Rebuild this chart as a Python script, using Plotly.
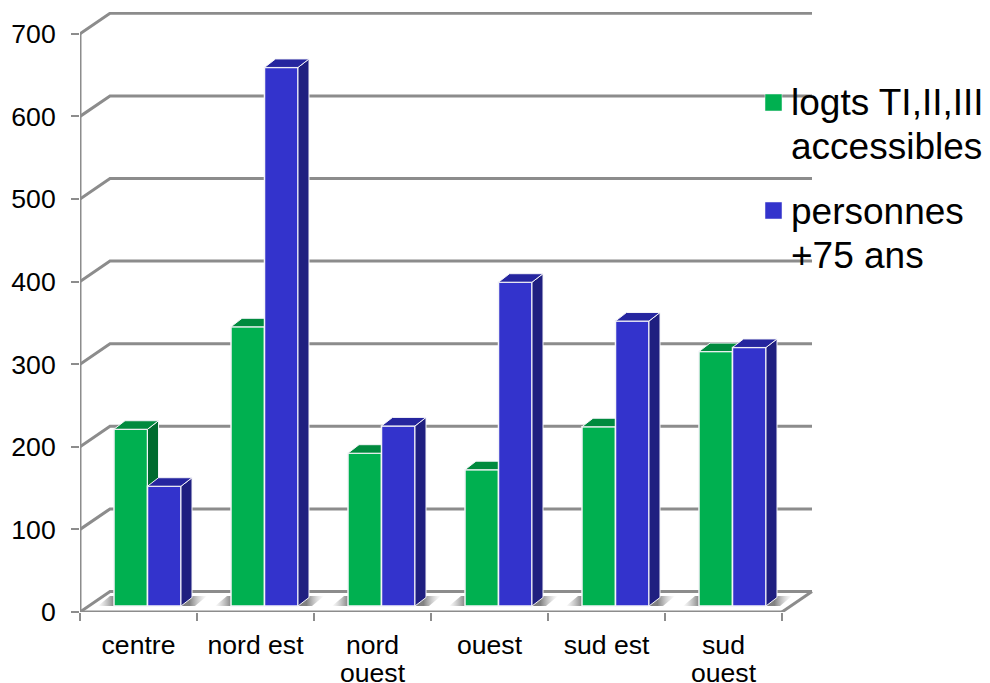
import plotly.graph_objects as go

# ---- data ----
cat_line1 = ["centre", "nord est", "nord", "ouest", "sud est", "sud"]
cat_line2 = ["", "", "ouest", "", "", "ouest"]
logts = [214, 338, 185, 165, 217, 308]
personnes = [145, 652, 218, 392, 345, 313]
y_ticks = [0, 100, 200, 300, 400, 500, 600, 700]
legend_lines = [["logts TI,II,III", "accessibles"], ["personnes", "+75 ans"]]

# ---- geometry / style ----
PAGE = 8              # default page margin of the written html
W, H = 990 - PAGE, 683 - PAGE
L, R, T, B = 80 - PAGE, 813 - PAGE, 12 - PAGE, 612 - PAGE
PX_X = 117.0          # px per category
PX_Y = 0.826          # px per value unit
XMAX = (R - L) / PX_X
YMAX = (B - T) / PX_Y
N = len(cat_line1)
WALL_DX = 30 / PX_X
WALL_DY = 20.5 / PX_Y
BASE = 6 / PX_Y
BAR_W = 33.5 / PX_X
BAR_OFF = 34 / PX_X
SIDE_DX = 11 / PX_X
SIDE_DY = 8.5 / PX_Y
GRID = "#8c8c8c"
FONT = "Liberation Sans"
TICK_SIZE = 26.6
LEGEND_SIZE = 37
GREEN = ("#00B050", "#006B30", "#008A3E")
BLUE = ("#3333CC", "#1F1F80", "#25259F")

fig = go.Figure()

# back wall grid lines and floor edge
gx, gy = [], []
for v in y_ticks:
    gx += [0, WALL_DX, N + WALL_DX, None]
    gy += [v, v + WALL_DY, v + WALL_DY, None]
gx += [N, N + WALL_DX, None, 0, N]
gy += [0, WALL_DY, None, 0, 0]
fig.add_trace(go.Scatter(x=gx, y=gy, mode="lines", line=dict(color=GRID, width=3),
                         hoverinfo="skip", showlegend=False))

# floor shadows
for i in range(N):
    x0 = i + BAR_OFF
    x1 = x0 + 2 * BAR_W
    sx = [x0 - 16 / PX_X, x1 + 14 / PX_X, x1 + 26 / PX_X, x0 - 4 / PX_X, x0 - 16 / PX_X]
    sy = [BASE, BASE, BASE + 10 / PX_Y, BASE + 10 / PX_Y, BASE]
    fig.add_trace(go.Scatter(
        x=sx, y=sy, mode="none", fill="toself",
        fillgradient=dict(type="horizontal", colorscale=[
            [0, "rgba(170,170,170,0)"], [0.15, "rgba(130,130,130,1)"],
            [0.84, "rgba(130,130,130,1)"], [1, "rgba(190,190,190,0)"]]),
        hoverinfo="skip", showlegend=False))


def draw(values, offset, colors, name, xa, ya):
    xs = [i + BAR_OFF + offset for i in range(N)]
    side_x, side_y, top_x, top_y = [], [], [], []
    for x, v in zip(xs, values):
        a, b = x, x + BAR_W
        t = BASE + v
        side_x += [b, b + SIDE_DX, b + SIDE_DX, b, b, None]
        side_y += [BASE, BASE + SIDE_DY, t + SIDE_DY, t, BASE, None]
        top_x += [a, a + SIDE_DX, b + SIDE_DX, b, a, None]
        top_y += [t, t + SIDE_DY, t + SIDE_DY, t, t, None]
    fig.add_trace(go.Bar(x=[x + BAR_W / 2 for x in xs], y=values, base=BASE, width=BAR_W, name=name,
                         marker=dict(color=colors[0], line=dict(color="#f4f4f8", width=1.5)),
                         xaxis=xa, yaxis=ya, showlegend=False, hoverinfo="skip"))
    for px, py, col in ((side_x, side_y, colors[1]), (top_x, top_y, colors[2])):
        fig.add_trace(go.Scatter(x=px, y=py, mode="lines", fill="toself", fillcolor=col,
                                 line=dict(color="#f4f4f8", width=1), xaxis=xa, yaxis=ya,
                                 hoverinfo="skip", showlegend=False))


draw(logts, 0, GREEN, "logts TI,II,III accessibles", "x2", "y2")
draw(personnes, BAR_W, BLUE, "personnes +75 ans", "x3", "y3")

# second lines of the category labels
annotations = []
for i, t in enumerate(cat_line2):
    if t:
        annotations.append(dict(x=i + 0.5, xref="x", y=(B - (673 - PAGE)) / (B - T), yref="paper",
                                text=t, showarrow=False, font=dict(family=FONT, size=TICK_SIZE, color="#000"),
                                xanchor="center", yanchor="middle"))

# legend block
legend_y = [[102 - PAGE, 146 - PAGE], [211 - PAGE, 255 - PAGE]]
swatch_y = [(94 - PAGE, 111 - PAGE), (202 - PAGE, 219 - PAGE)]
shapes = []
for lines, ys, sw, col in zip(legend_lines, legend_y, swatch_y, (GREEN[0], BLUE[0])):
    shapes.append(dict(type="rect", xref="paper", yref="paper",
                       x0=(765 - PAGE - L) / (R - L), x1=(782 - PAGE - L) / (R - L),
                       y0=(B - sw[1]) / (B - T), y1=(B - sw[0]) / (B - T),
                       fillcolor=col, line=dict(color="#f4f4f8", width=0.5)))
    for t, y in zip(lines, ys):
        annotations.append(dict(x=(789 - PAGE - L) / (R - L), xref="paper", y=(B - y) / (B - T), yref="paper",
                                text=t, showarrow=False, font=dict(family=FONT, size=LEGEND_SIZE, color="#000"),
                                xanchor="left", yanchor="middle"))

hidden = dict(visible=False, fixedrange=True)
fig.update_layout(
    width=W, height=H, margin=dict(l=L, r=W - R, t=T, b=H - B, autoexpand=False),
    paper_bgcolor="white", plot_bgcolor="white", showlegend=False, barmode="overlay",
    hovermode=False, annotations=annotations, shapes=shapes,
    font=dict(family=FONT, size=TICK_SIZE, color="#000"),
    xaxis=dict(range=[0, XMAX], tickvals=[i + 0.5 for i in range(N)], ticktext=cat_line1,
               ticks="", showgrid=False, zeroline=False, showline=False,
               ticklabelstandoff=14, tickangle=0, fixedrange=True,
               minor=dict(tickvals=list(range(N + 1)), ticks="outside", ticklen=8, tickwidth=2,
                          tickcolor=GRID, showgrid=False)),
    yaxis=dict(range=[0, YMAX], tickvals=y_ticks, ticks="outside", ticklen=8, tickwidth=2,
               tickcolor=GRID, showgrid=False, zeroline=False, showline=False,
               ticklabelstandoff=10, fixedrange=True),
    xaxis2=dict(overlaying="x", range=[0, XMAX], **hidden),
    yaxis2=dict(overlaying="y", range=[0, YMAX], **hidden),
    xaxis3=dict(overlaying="x", range=[0, XMAX], **hidden),
    yaxis3=dict(overlaying="y", range=[0, YMAX], **hidden),
)
# y axis line only up to the 700 tick
fig.add_trace(go.Scatter(x=[0, 0], y=[0, y_ticks[-1]], mode="lines", line=dict(color=GRID, width=3),
                         hoverinfo="skip", showlegend=False, cliponaxis=False))
fig.write_html("out.html")
